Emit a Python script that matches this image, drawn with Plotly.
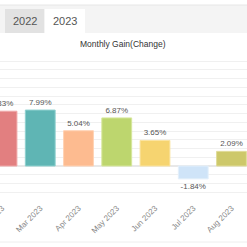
import plotly.graph_objects as go

months = ["Feb 2023", "Mar 2023", "Apr 2023", "May 2023", "Jun 2023", "Jul 2023", "Aug 2023", "Sep 2023"]
gains = [7.83, 7.99, 5.04, 6.87, 3.65, -1.84, 2.09, None]
colors = ["#e27f80", "#5fb5b4", "#fdbb90", "#bdd66e", "#f6d470", "#cfe4f8", "#cdc86a", "#cccccc"]
edge_colors = ["#f0a8a8", "#8fd0cf", "#ffd2b4", "#d6e79c", "#fbe4a0", "#e4f0fb", "#e0dc98", "#dddddd"]
tabs = ["2022", "2023"]
title_text = "Monthly Gain(Change)"

W, H = 247, 247
plot_top, plot_bot = 54, 201
ph = plot_bot - plot_top

def py(p):
    return (plot_bot - p) / ph

labels = [f"{v:.2f}%" if v is not None else "" for v in gains]

fig = go.Figure(go.Bar(
    x=months, y=gains, text=labels, textposition="outside",
    textfont=dict(size=8, color="#555", family="Liberation Sans, Arial"),
    marker=dict(color=colors, line=dict(color=edge_colors, width=1)),
    cliponaxis=False,
))

shapes = [
    dict(type="rect", xref="paper", yref="paper", x0=0, x1=1, y0=py(33), y1=py(5),
         fillcolor="#f4f4f4", line=dict(width=0), layer="above"),
    dict(type="line", xref="paper", yref="paper", x0=0, x1=1, y0=py(5), y1=py(5),
         line=dict(color="#e6e6e6", width=1), layer="above"),
    dict(type="rect", xref="paper", yref="paper", x0=5 / W, x1=44 / W, y0=py(33), y1=py(9),
         fillcolor="#e2e2e2", line=dict(width=0), layer="above"),
    dict(type="rect", xref="paper", yref="paper", x0=45 / W, x1=85 / W, y0=py(33), y1=py(9),
         fillcolor="#ffffff", line=dict(width=0), layer="above"),
    dict(type="line", xref="paper", yref="paper", x0=0, x1=1, y0=py(242), y1=py(242),
         line=dict(color="#eeeeee", width=1)),
]

annotations = [
    dict(text=tabs[0], x=24.5 / W, y=py(21), xref="paper", yref="paper", showarrow=False,
         xanchor="center", yanchor="middle",
         font=dict(size=11, color="#555", family="Liberation Sans, Arial")),
    dict(text=tabs[1], x=65 / W, y=py(21), xref="paper", yref="paper", showarrow=False,
         xanchor="center", yanchor="middle",
         font=dict(size=11, color="#555", family="Liberation Sans, Arial")),
    dict(text=title_text, x=123 / W, y=py(44), xref="paper", yref="paper", showarrow=False,
         xanchor="center", yanchor="middle",
         font=dict(size=8.5, color="#333", family="Liberation Sans, Arial")),
]

pitch = 38.25
a = 0 - 2 / pitch  # Feb (index 0) center at x=2px
b = a + W / pitch

fig.update_layout(
    width=W, height=H, margin=dict(l=0, r=0, t=plot_top, b=H - plot_bot, autoexpand=False),
    paper_bgcolor="white", plot_bgcolor="white",
    showlegend=False, bargap=0.22,
    shapes=shapes, annotations=annotations,
    xaxis=dict(range=[a, b], autorange=False, automargin=False, tickangle=-45,
               showgrid=False, showline=False, ticks="",
               tickfont=dict(size=8, color="#888", family="Liberation Sans, Arial")),
    yaxis=dict(range=[-5, 16], autorange=False, automargin=False, dtick=1.25, tick0=0,
               showgrid=True, gridcolor="#f0f0f0",
               gridwidth=1, zeroline=True, zerolinecolor="#e8e8e8", showticklabels=False),
)

fig.write_html("out.html")
